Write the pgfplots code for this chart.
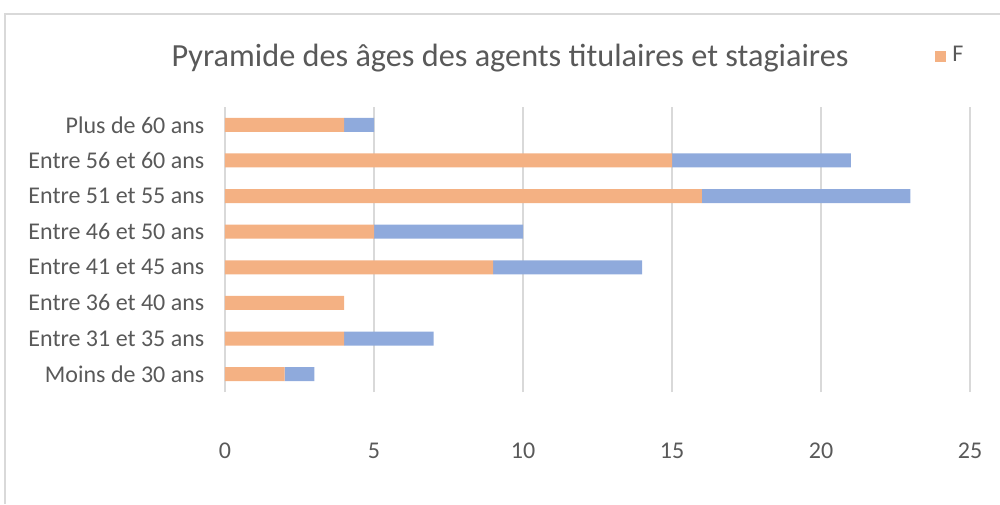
\documentclass[border=0pt]{standalone}
\usepackage{pgfplots}
\pgfplotsset{compat=1.18}
\usepackage{fontspec}
\setmainfont{Carlito}
\definecolor{forange}{HTML}{F4B183}
\definecolor{hblue}{HTML}{8FAADC}
\definecolor{gridc}{HTML}{D9D9D9}
\definecolor{txt}{HTML}{595959}
\begin{document}
\begin{tikzpicture}
\path[use as bounding box] (0,0) rectangle (750pt,378pt);
\draw[gridc, line width=1pt] (3.75pt,0) -- (3.75pt,367.5pt) -- (750pt,367.5pt);
\begin{axis}[
  at={(168.75pt,84pt)}, anchor=south west,
  scale only axis, width=558.75pt, height=213.75pt,
  xbar stacked, bar width=10.5pt,
  xmin=0, xmax=25, ymin=-0.5, ymax=7.5,
  xtick={0,5,10,15,20,25},
  ytick={0,1,2,3,4,5,6,7},
  yticklabels={Moins de 30 ans,Entre 31 et 35 ans,Entre 36 et 40 ans,Entre 41 et 45 ans,Entre 46 et 50 ans,Entre 51 et 55 ans,Entre 56 et 60 ans,Plus de 60 ans},
  xmajorgrids, grid style={gridc, line width=1pt},
  axis line style={draw=none},
  major tick length=0pt,
  tick label style={font=\fontsize{18}{20}\selectfont, text=txt},
  /pgf/number format/assume math mode=true,
  xticklabel style={yshift=-35pt},
  yticklabel style={xshift=-12pt},
]
\addplot[fill=forange, draw=none] coordinates {(2,0) (4,1) (4,2) (9,3) (5,4) (16,5) (15,6) (4,7)};
\addplot[fill=hblue, draw=none] coordinates {(1,0) (3,1) (0,2) (5,3) (5,4) (7,5) (6,6) (1,7)};
\end{axis}
\node[text=txt, font=\fontsize{24.2}{27}\selectfont] at (382.5pt,334.5pt) {Pyramide des âges des agents titulaires et stagiaires};
\fill[forange] (701.5pt,331.5pt) rectangle (709.5pt,340pt);
\node[text=txt, font=\fontsize{18}{20}\selectfont, anchor=base west, inner sep=0pt] at (714pt,331.5pt) {F};
\end{tikzpicture}
\end{document}
